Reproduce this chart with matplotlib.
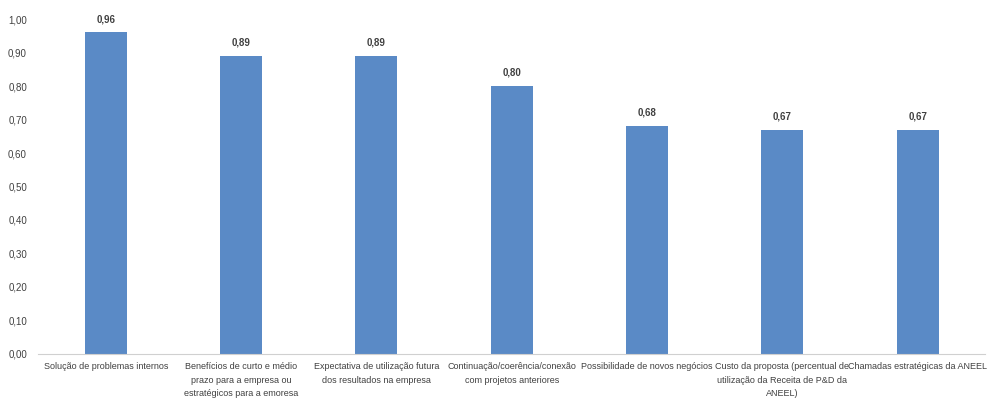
import matplotlib
matplotlib.use("Agg")
import matplotlib.pyplot as plt
from matplotlib.ticker import FuncFormatter

plt.rcParams["font.family"] = ["Liberation Sans Narrow", "Liberation Sans", "DejaVu Sans"]

BAR = "#5A8AC6"
TEXT = "#404040"
AXIS = "#D0D0D0"

categories = [
    "Solução de problemas internos",
    "Benefícios de curto e médio\nprazo para a empresa ou\nestratégicos para a emoresa",
    "Expectativa de utilização futura\ndos resultados na empresa",
    "Continuação/coerência/conexão\ncom projetos anteriores",
    "Possibilidade de novos negócios",
    "Custo da proposta (percentual de\nutilização da Receita de P&D da\nANEEL)",
    "Chamadas estratégicas da ANEEL",
]
values = [0.96, 0.89, 0.89, 0.80, 0.68, 0.67, 0.67]
yticks = [0.0, 0.1, 0.2, 0.3, 0.4, 0.5, 0.6, 0.7, 0.8, 0.9, 1.0]

fig = plt.figure(figsize=(9.9, 4.05), dpi=100)
ax = fig.add_axes([0.0384, 0.126, 0.957, 0.827])

x = list(range(len(categories)))
ax.bar(x, values, width=0.31, color=BAR, zorder=2)
for xi, v in zip(x, values):
    ax.annotate(f"{v:.2f}".replace(".", ","), (xi, v), xytext=(0, 6),
                textcoords="offset points", ha="center", va="bottom",
                fontsize=7, fontweight="bold", color=TEXT)

ax.set_xlim(-0.5, len(categories) - 0.5)
ax.set_ylim(0, 1.0)
ax.set_yticks(yticks)
ax.yaxis.set_major_formatter(FuncFormatter(lambda v, _: f"{v:.2f}".replace(".", ",")))
ax.set_xticks(x)
ax.set_xticklabels(categories, fontsize=6.5, color=TEXT, linespacing=1.6, va="top")
ax.tick_params(axis="y", labelsize=7, labelcolor=TEXT, length=0, pad=8)
ax.tick_params(axis="x", length=0, pad=6)

for side in ("top", "right", "left"):
    ax.spines[side].set_visible(False)
ax.spines["bottom"].set_color(AXIS)
ax.spines["bottom"].set_linewidth(0.8)

fig.savefig("out.png", dpi=100)
